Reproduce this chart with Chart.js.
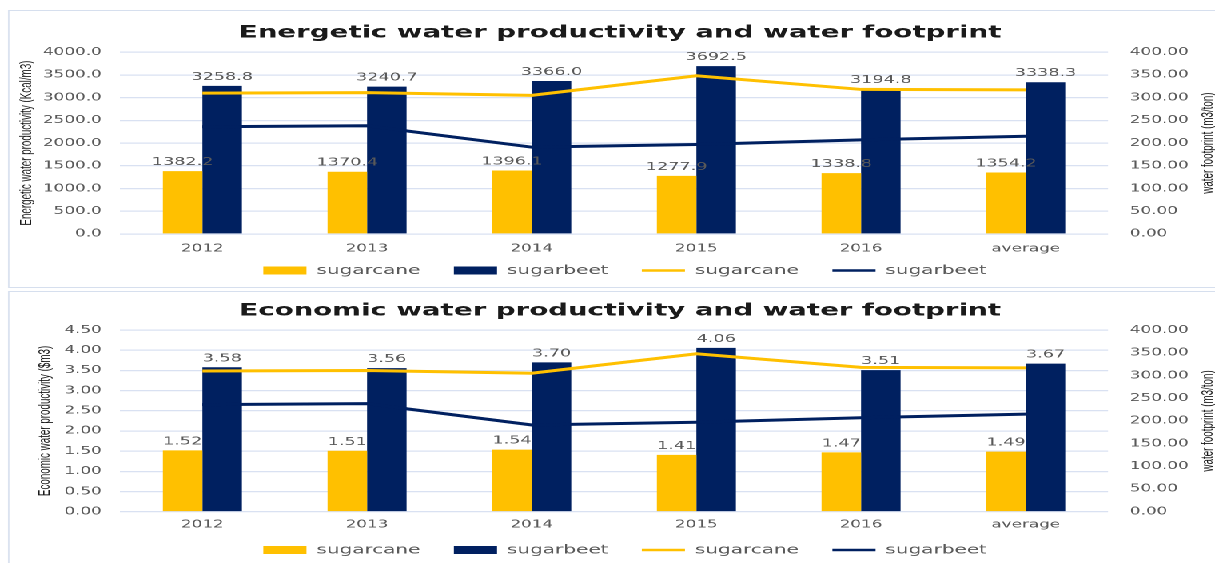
<!DOCTYPE html>
<html>
<head>
<meta charset="utf-8">
<script src="https://cdn.jsdelivr.net/npm/chart.js@4.4.0/dist/chart.umd.min.js"></script>
<style>
  html, body { margin: 0; padding: 0; background: #fff; overflow: hidden; }
  body { width: 1215px; height: 563px; position: relative; }
  /* charts are laid out on a narrower stage and widened horizontally */
  #stage { position: absolute; left: 0; top: 0; width: 760px; height: 563px;
           transform: scaleX(1.5987); transform-origin: 0 0; }
  .panel { position: absolute; left: 5px; width: 757px; box-sizing: border-box;
           border: 1px solid #d6dfee; background: #fff; }
  #panelEnergetic { top: 10px; height: 278px; }
  #panelEconomic { top: 291px; height: 290px; }
  .box { position: relative; width: 100%; height: 100%; }
</style>
</head>
<body>
<div id="stage">
  <div class="panel" id="panelEnergetic"><div class="box"><canvas id="energetic"></canvas></div></div>
  <div class="panel" id="panelEconomic"><div class="box"><canvas id="economic"></canvas></div></div>
</div>
<script>
// categories shared by both charts
const categories = ['2012', '2013', '2014', '2015', '2016', 'average'];

// energetic water productivity (Kcal/m3)
const energeticSugarcane = [1382.2, 1370.4, 1396.1, 1277.9, 1338.8, 1354.2];
const energeticSugarbeet = [3258.8, 3240.7, 3366.0, 3692.5, 3194.8, 3338.3];

// economic water productivity ($/m3)
const economicSugarcane = [1.52, 1.51, 1.54, 1.41, 1.47, 1.49];
const economicSugarbeet = [3.58, 3.56, 3.70, 4.06, 3.51, 3.67];

// water footprint (m3/ton), right axis
const footprintSugarcane = [310, 311, 305, 348, 318, 317];
const footprintSugarbeet = [236, 238, 191, 197, 207, 215];

// axis ranges
const energeticAxis = { min: 0, max: 4000, step: 500, decimals: 1 };
const economicAxis = { min: 0, max: 4.5, step: 0.5, decimals: 2 };
const footprintAxis = { min: 0, max: 400, step: 50, decimals: 2 };

const GOLD = '#FFC000';
const NAVY = '#002060';
const TICK = '#595959';
const GRID = '#d9e1f2';

Chart.defaults.font.family = "'DejaVu Sans', sans-serif";

// value labels above each bar
const barValueLabels = {
  id: 'barValueLabels',
  afterDatasetsDraw(chart, args, opts) {
    const { ctx } = chart;
    ctx.save();
    ctx.font = `${opts.size}px 'DejaVu Sans'`;
    ctx.fillStyle = opts.color;
    ctx.textAlign = 'center';
    ctx.textBaseline = 'alphabetic';
    chart.data.datasets.forEach((ds, i) => {
      if (ds.type !== 'bar') return;
      const meta = chart.getDatasetMeta(i);
      meta.data.forEach((el, j) => {
        ctx.fillText(ds.data[j].toFixed(opts.decimals), el.x, el.y - opts.gap);
      });
    });
    ctx.restore();
  }
};

// right axis title, reading bottom to top
const rightAxisTitle = {
  id: 'rightAxisTitle',
  afterDraw(chart, args, opts) {
    const s = chart.scales.y1;
    const { ctx, chartArea } = chart;
    ctx.save();
    ctx.font = `${opts.size}px 'Liberation Sans'`;
    ctx.fillStyle = opts.color;
    ctx.textAlign = 'center';
    ctx.textBaseline = 'middle';
    ctx.translate(s.right - opts.offset, (chartArea.top + chartArea.bottom) / 2);
    ctx.rotate(-Math.PI / 2);
    ctx.fillText(opts.text, 0, 0);
    ctx.restore();
  }
};

// nudge the title and legend blocks sideways after layout
const blockOffsets = {
  id: 'blockOffsets',
  afterLayout(chart, args, opts) {
    [['titleBlock', opts.title], ['legend', opts.legend]].forEach(([key, dx]) => {
      const b = chart[key];
      if (b && dx) { b.left += dx; b.right += dx; }
    });
  }
};

// legend entries in dataset order, with a little extra room after each of the first three
function legendLabels(chart) {
  const items = Chart.defaults.plugins.legend.labels.generateLabels(chart);
  return items.map(it => ({ ...it, text: it.datasetIndex < 3 ? it.text + '   ' : it.text }));
}

function buildChart(id, cfg) {
  return new Chart(document.getElementById(id), {
    data: {
      labels: categories,
      datasets: [
        { type: 'bar', label: 'sugarcane', data: cfg.cane, backgroundColor: GOLD,
          yAxisID: 'y', order: 1, pointStyle: 'rect' },
        { type: 'bar', label: 'sugarbeet', data: cfg.beet, backgroundColor: NAVY,
          yAxisID: 'y', order: 1, pointStyle: 'rect' },
        { type: 'line', label: 'sugarcane', data: footprintSugarcane, borderColor: GOLD,
          backgroundColor: GOLD, borderWidth: 3, pointRadius: 0, pointHoverRadius: 0,
          pointStyle: 'line', pointBorderColor: GOLD, pointBorderWidth: 2.5,
          tension: 0, yAxisID: 'y1', order: 0 },
        { type: 'line', label: 'sugarbeet', data: footprintSugarbeet, borderColor: NAVY,
          backgroundColor: NAVY, borderWidth: 3, pointRadius: 0, pointHoverRadius: 0,
          pointStyle: 'line', pointBorderColor: NAVY, pointBorderWidth: 2.5,
          tension: 0, yAxisID: 'y1', order: 0 }
      ]
    },
    options: {
      responsive: true,
      maintainAspectRatio: false,
      animation: false,
      devicePixelRatio: 2,
      datasets: { bar: { categoryPercentage: 0.48, barPercentage: 1.0 } },
      layout: { padding: { left: 0, right: 0, top: 0, bottom: cfg.padBottom } },
      scales: {
        x: {
          grid: { display: false, drawTicks: false },
          border: { display: false },
          ticks: { color: TICK, font: { size: 10.5 }, padding: cfg.xPad },
          afterFit: s => { s.height = cfg.xHeight; }
        },
        y: {
          position: 'left',
          min: cfg.axis.min, max: cfg.axis.max,
          ticks: { stepSize: cfg.axis.step, color: TICK, font: { size: 10.5 }, padding: 11.5,
                   callback: v => Number(v).toFixed(cfg.axis.decimals) },
          grid: { color: GRID, lineWidth: 1.2, drawTicks: false },
          border: { display: false },
          title: { display: true, text: cfg.leftTitle, color: '#1a1a1a',
                   font: { family: "'Liberation Sans'", size: 9.8 },
                   padding: { top: cfg.leftTitlePad, bottom: 0 } },
          afterFit: s => { s.width = 69.1; }
        },
        y1: {
          position: 'right',
          min: footprintAxis.min, max: footprintAxis.max,
          ticks: { stepSize: footprintAxis.step, color: TICK, font: { size: 10.5 }, padding: 13.7,
                   callback: v => Number(v).toFixed(footprintAxis.decimals) },
          grid: { display: false, drawTicks: false },
          border: { display: false },
          afterFit: s => { s.width = 67.9; }
        }
      },
      plugins: {
        title: { display: true, text: cfg.title, color: '#1a1a1a',
                 font: { size: 17.3, weight: 'bold' },
                 padding: { top: cfg.titleTop, bottom: 8.6 } },
        legend: {
          position: 'bottom',
          labels: { usePointStyle: true, pointStyleWidth: 27, boxHeight: 8, padding: 9,
                    color: TICK, font: { size: 12.5 },
                    generateLabels: legendLabels,
                    sort: (a, b) => a.datasetIndex - b.datasetIndex }
        },
        tooltip: { enabled: false },
        barValueLabels: { size: 11, color: TICK, gap: 6, decimals: cfg.axis.decimals },
        rightAxisTitle: { text: 'water footprint (m3/ton)', size: 9.8, color: '#1a1a1a', offset: 5 },
        blockOffsets: { title: 4.4, legend: 7.5 }
      }
    },
    plugins: [barValueLabels, rightAxisTitle, blockOffsets]
  });
}

buildChart('energetic', {
  title: 'Energetic water productivity and water footprint',
  leftTitle: 'Energetic water productivity (Kcal/m3)',
  cane: energeticSugarcane, beet: energeticSugarbeet, axis: energeticAxis,
  titleTop: 11.8, leftTitlePad: 5.0, xPad: 8.6, xHeight: 21.25, padBottom: 0.25
});

buildChart('economic', {
  title: 'Economic water productivity and water footprint',
  leftTitle: 'Economic water productivity ($m3)',
  cane: economicSugarcane, beet: economicSugarbeet, axis: economicAxis,
  titleTop: 8.8, leftTitlePad: 16.2, xPad: 6.9, xHeight: 23.05, padBottom: 13.75
});
</script>
</body>
</html>
